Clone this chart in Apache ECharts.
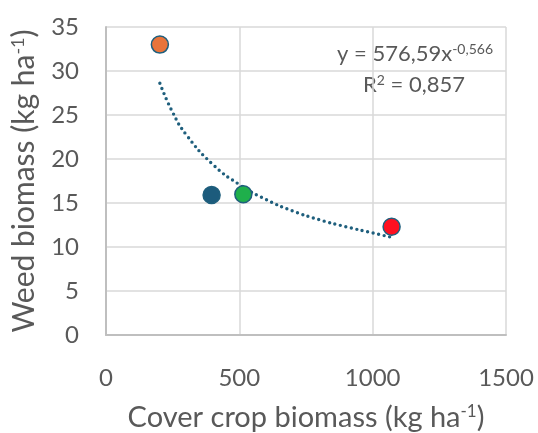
<!DOCTYPE html>
<html>
<head>
<meta charset="utf-8">
<script src="https://cdn.jsdelivr.net/npm/echarts@6/dist/echarts.min.js"></script>
<style>
    html, body { margin: 0; padding: 0; background: #fff; }
    #chart { width: 538px; height: 433px; }
</style>
</head>
<body>
<div id="chart"></div>
<script>
// observed points (cover crop biomass, weed biomass)
const pointNames = ['a', 'b', 'c', 'd'];
const coverBiomass = [202, 396, 515, 1071];
const weedBiomass = [33.0, 15.9, 16.0, 12.3];
const pointColors = ['#E9743A', '#1C5B7C', '#1FAF4B', '#FF1020'];

// trendline
const trendX = [202, 250, 300, 400, 500, 600, 700, 800, 900, 1000, 1071];
const trendY = [28.6, 25.3, 22.8, 19.4, 17.1, 15.4, 14.1, 13.1, 12.3, 11.6, 11.1];

const xTicks = [0, 500, 1000, 1500];
const yTicks = [0, 5, 10, 15, 20, 25, 30, 35];

const chart = echarts.init(document.getElementById('chart'));
const font = 'Lato, "Open Sans", sans-serif';
const textGray = '#595959';

let scatterData = [];
coverBiomass.forEach((x, i) => {
    scatterData.push({
        name: pointNames[i],
        value: [x, weedBiomass[i]],
        itemStyle: { color: pointColors[i] }
    });
});

let trendData = trendX.map((x, i) => [x, trendY[i]]);

let option = {
    animation: false,
    grid: {
        left: 106,
        right: 32,
        top: 27,
        bottom: 98,
        outerBoundsMode: 'none'
    },
    xAxis: {
        type: 'value',
        min: xTicks[0],
        max: xTicks[xTicks.length - 1],
        interval: 500,
        name: '{t|Cover crop biomass (kg ha}{s|-1}{t|)}',
        nameLocation: 'middle',
        nameGap: 68,
        nameTextStyle: {
            rich: {
                t: { fontFamily: font, fontSize: 29, color: textGray },
                s: { fontFamily: font, fontSize: 17, color: textGray, verticalAlign: 'top', padding: [0, 0, 12, 0] }
            }
        },
        axisLine: { show: true, lineStyle: { color: '#BFBFBF', width: 2 } },
        axisTick: { show: false },
        axisLabel: {
            fontFamily: font,
            fontSize: 24,
            color: textGray,
            margin: 31,
            formatter: function (val) {
                return String(val);
            }
        },
        splitLine: { show: true, lineStyle: { color: '#D9D9D9', width: 1.5 } }
    },
    yAxis: {
        type: 'value',
        min: yTicks[0],
        max: yTicks[yTicks.length - 1],
        interval: 5,
        name: '{t|Weed biomass (kg ha}{s|-1}{t|)}',
        nameLocation: 'middle',
        nameGap: 67,
        nameTextStyle: {
            rich: {
                t: { fontFamily: font, fontSize: 30, color: textGray },
                s: { fontFamily: font, fontSize: 18, color: textGray, verticalAlign: 'top', padding: [0, 0, 12, 0] }
            }
        },
        axisLine: { show: true, lineStyle: { color: '#BFBFBF', width: 2 } },
        axisTick: { show: false },
        axisLabel: { fontFamily: font, fontSize: 24, color: textGray, margin: 27 },
        splitLine: { show: true, lineStyle: { color: '#D9D9D9', width: 1.5 } }
    },
    graphic: [
        {
            type: 'text',
            right: 45,
            top: 42,
            style: {
                text: '{t|y = 576,59x}{s|-0,566}',
                rich: {
                    t: { fontFamily: font, fontSize: 22, fill: textGray },
                    s: { fontFamily: font, fontSize: 14, fill: textGray, verticalAlign: 'top', padding: [0, 0, 10, 0] }
                }
            }
        },
        {
            type: 'text',
            left: 363,
            top: 73,
            style: {
                text: '{t|R}{s|2}{t| = 0,857}',
                rich: {
                    t: { fontFamily: font, fontSize: 22, fill: textGray },
                    s: { fontFamily: font, fontSize: 14, fill: textGray, verticalAlign: 'top', padding: [0, 0, 10, 0] }
                }
            }
        }
    ],
    series: [
        {
            name: 'trend',
            type: 'line',
            data: trendData,
            smooth: true,
            symbol: 'none',
            lineStyle: {
                color: '#1F5F7D',
                width: 3.4,
                type: [0, 5.6],
                cap: 'round'
            },
            z: 3
        },
        {
            name: 'points',
            type: 'scatter',
            data: scatterData,
            symbolSize: 17,
            itemStyle: {
                opacity: 1,
                borderColor: '#1F5F7D',
                borderWidth: 1.5
            },
            z: 4
        }
    ]
};

chart.setOption(option);
window.addEventListener('resize', () => {
    chart.resize();
});
</script>
</body>
</html>
